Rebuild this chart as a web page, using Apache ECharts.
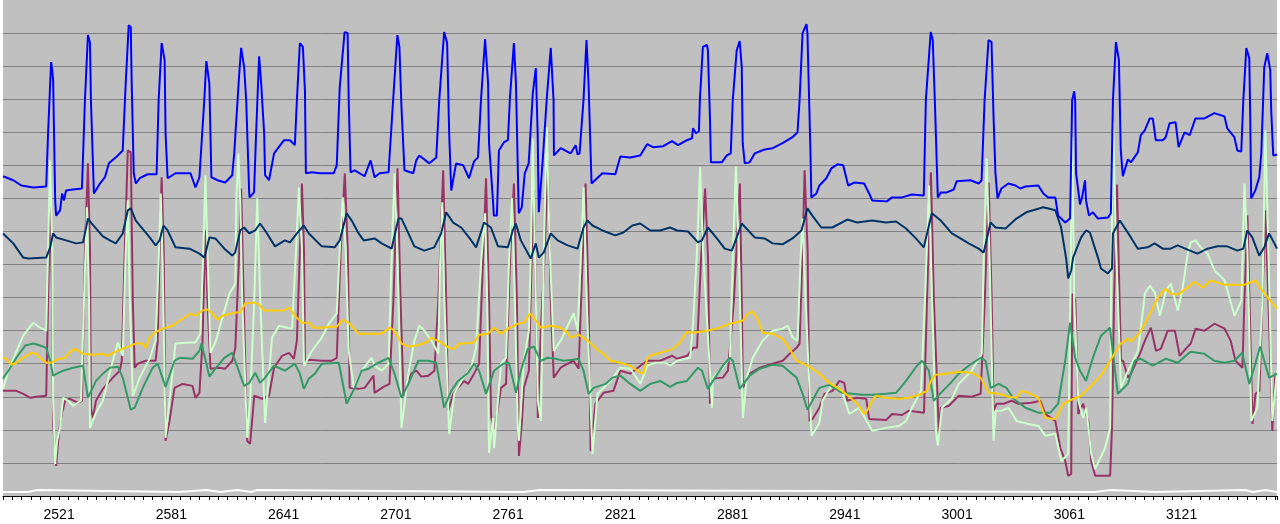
<!DOCTYPE html>
<html>
<head>
<meta charset="utf-8">
<script src="https://cdn.jsdelivr.net/npm/echarts@6/dist/echarts.min.js"></script>
<style>
html,body{margin:0;padding:0;background:#ffffff;}
#chart{width:1280px;height:524px;}
</style>
</head>
<body>
<div id="chart"></div>
<script>
// x: sample number, y: signal level (arbitrary units, 0-150)
const xMin = 2491, xMax = 3172;
const firstLabel = 2521, labelStep = 60;

const blueSeries = [[2491,96.7],[2496.5,95.5],[2500.8,93.9],[2507.2,93.3],[2514.1,93.6],[2515.1,109.7],[2516.7,131.2],[2517.3,128.8],[2517.8,125.8],[2518.9,89.4],[2519.4,84.8],[2521.5,86.4],[2522.6,91.5],[2523.6,89.4],[2524.7,92.4],[2528.4,92.7],[2533.2,93],[2534.8,119.7],[2536.4,139.4],[2537.5,137],[2538,119.7],[2539.6,91.5],[2542.8,94.5],[2545.5,96.4],[2547.6,100.6],[2552.4,103],[2555,104.5],[2556.6,124.8],[2558.2,142.4],[2559.3,141.8],[2559.8,124.8],[2560.9,97.6],[2562,94.5],[2564.1,96.1],[2568.3,97.3],[2573.1,97.3],[2574.2,119.7],[2575.8,137],[2577.4,131.8],[2577.9,109.7],[2579,96.1],[2583.2,97.6],[2591.2,97.6],[2593.9,93.3],[2596,96.4],[2598.6,119.7],[2599.7,131.5],[2601.3,124.8],[2602.4,96.4],[2605.6,95.5],[2609.8,94.8],[2613.5,97],[2614.6,103.6],[2617.3,127.9],[2618.3,135.5],[2619.9,129.7],[2621,119.7],[2622.6,91.8],[2622.8,90.3],[2625.2,91.8],[2626.3,109.7],[2627.9,133],[2629,124.8],[2630.6,109.7],[2631.1,97],[2633.2,95.5],[2635.9,103.6],[2641.2,107.6],[2644.4,107.6],[2647,106.1],[2648.1,119.7],[2649.7,137],[2651.3,135.8],[2652.4,122.7],[2652.9,97.6],[2656.1,97.9],[2660.4,97.6],[2667.8,97.6],[2669.4,100],[2671,123.6],[2673.6,140.3],[2675.2,140],[2675.8,119.7],[2676.8,97.9],[2679,98.5],[2684.3,96.7],[2687.5,101.5],[2689.6,96.4],[2692.3,97.6],[2697.1,97.9],[2699.2,116.7],[2701.8,139.4],[2702.9,135.8],[2704,117.6],[2705.6,98.5],[2710.3,97.6],[2711.9,101.5],[2713.5,103],[2718.9,100.6],[2722.6,102.4],[2724.2,119.7],[2726.8,140.3],[2728.4,137],[2729.5,109.7],[2730.6,92.4],[2733.2,100.6],[2737,100],[2740.1,96.1],[2742.8,101.2],[2744.9,102.4],[2746.5,119.7],[2748.7,138.2],[2750.3,124.8],[2750.8,106.7],[2752.9,89.4],[2753.4,84.8],[2755,84.8],[2756.1,104.5],[2758.8,107],[2760.9,107.6],[2762,120.6],[2764.1,137],[2765.2,124.8],[2766.7,85.5],[2768.3,87.3],[2769.9,97.6],[2772,100.6],[2774.2,121.8],[2775.8,129.4],[2776.8,109.7],[2777.4,85.8],[2779.5,101.5],[2781.6,119.7],[2783.8,135.5],[2785.3,119.7],[2785.5,103],[2789.1,105.2],[2794.4,103.6],[2797.1,106.1],[2798.1,103.3],[2799.2,103.6],[2801.3,119.7],[2802.9,137.9],[2804,124.8],[2805.6,94.5],[2806.6,94.2],[2811.4,97.6],[2818.3,97.3],[2821,102.7],[2826.3,102.4],[2831.6,103],[2835.3,106.4],[2838.5,105.5],[2843.9,105.8],[2848.6,107.3],[2851.8,106.1],[2856.6,107.6],[2859.3,108.2],[2859.8,111.2],[2861.4,109.7],[2863,110.3],[2863.5,119.7],[2865.1,135.8],[2867.3,136.4],[2867.8,134.8],[2868.9,114.5],[2869.4,100.9],[2875.2,100.9],[2877.9,103],[2880,103.6],[2881.1,119.7],[2883.2,134.8],[2884.8,137.6],[2885.9,129.7],[2886.4,106.7],[2887.5,100.6],[2890.1,100.9],[2892.8,103.6],[2898.1,104.8],[2902.4,105.2],[2907.7,106.7],[2913,108.5],[2915.7,110],[2916.8,119.7],[2918.4,140],[2920.5,142.7],[2921,140],[2922.6,104.5],[2923.1,90.3],[2925.8,91.5],[2927.4,93.9],[2931.1,96.1],[2933.8,99.1],[2937,100.3],[2940.1,100],[2942.8,93.9],[2946,94.8],[2951.3,94.5],[2954,91.5],[2955.6,89.4],[2963.5,89.1],[2966.2,90.3],[2971.5,90.3],[2976.8,91.2],[2983.2,90.9],[2984.3,119.7],[2986.9,140.3],[2988,137.9],[2989.1,119.7],[2990.7,90.3],[2992.3,91.8],[2995.5,91.8],[2999.2,92.7],[3000.8,95.2],[3008.2,95.5],[3012.5,94.5],[3014.1,95.5],[3015.7,119.7],[3017.8,137.9],[3019.4,137.3],[3020.5,114.5],[3021.5,97.6],[3022.6,90],[3024.7,93],[3028.4,94.5],[3032.2,93.9],[3034.8,93],[3037.5,93.6],[3044.4,93.9],[3047.1,91.5],[3049.7,90.3],[3053.5,90.3],[3055,84.8],[3058.8,82.7],[3061.4,83.9],[3062.5,119.7],[3063.6,122.4],[3064.1,119.7],[3064.6,97.6],[3066.7,88.2],[3067.8,90.3],[3069.4,95.5],[3069.9,89.4],[3071.5,84.8],[3073.6,85.8],[3076.3,83.9],[3081.6,84.2],[3083.2,85.5],[3084.3,119.7],[3085.9,137.3],[3087.5,131.8],[3088.5,104.5],[3089.6,96.7],[3092.3,101.8],[3093.9,100.9],[3097.6,103.9],[3099.2,109.1],[3101.3,110.6],[3104,114.2],[3105.6,114.2],[3107.2,107.6],[3110.9,107.6],[3112.5,108.5],[3114.6,112.7],[3117.8,113],[3119.4,105.5],[3122.6,110],[3125.3,109.1],[3128.4,114.2],[3133.2,114.2],[3138.5,115.8],[3143.9,114.8],[3145.4,111.2],[3149.2,108.5],[3150.8,104.5],[3152.9,104.2],[3154,119.7],[3155.6,135.5],[3157.2,132.4],[3157.7,114.5],[3158.2,90],[3160.4,92.4],[3162.5,96.4],[3163.6,103.6],[3165.2,129.7],[3166.8,133.9],[3168.4,128.8],[3168.9,116.7],[3170,103],[3172,103.3]];

const navySeries = [[2491,79.4],[2496.5,76.4],[2501.8,72.1],[2504.5,71.8],[2514.1,72.1],[2516.2,75.2],[2517.8,79.4],[2519.4,78.2],[2524.7,77.3],[2530,76.4],[2533.8,76.7],[2536.4,83.9],[2538,82.7],[2544.4,78.5],[2548.1,77.3],[2551.3,76.4],[2555,79.4],[2557.7,86.4],[2559.3,87],[2562,83.3],[2569.4,78.2],[2572.6,75.8],[2574.7,77.3],[2576.8,81.8],[2579,80.3],[2583.2,75.2],[2590.7,74.8],[2596,73.3],[2598.7,72.1],[2601.3,78.2],[2604.5,77.9],[2609.3,74.8],[2613.5,72.7],[2615.1,73.6],[2617.8,80.3],[2619.9,81.2],[2622.6,79.4],[2625.8,80.3],[2628.4,82.4],[2631.1,80.3],[2636.4,75.5],[2641.7,77.3],[2644.4,76.7],[2648.1,79.4],[2651.8,81.8],[2654.5,79.4],[2661.4,75.5],[2668.3,75.2],[2671,77.3],[2674.7,85.5],[2677.4,83.3],[2681.1,79.4],[2683.8,77.3],[2689.6,77.9],[2693.4,76.4],[2698.7,74.8],[2702.4,83.9],[2704,83.9],[2707.7,79.4],[2710.9,75.5],[2716.2,74.2],[2721.5,75.2],[2725.2,79.4],[2727.9,85.8],[2731.6,82.7],[2735.9,81.2],[2740.1,78.2],[2743.9,75.2],[2748.1,82.7],[2751.8,81.2],[2755.6,75.5],[2760.9,75.2],[2763.5,80.3],[2765.1,82.4],[2767.8,77.3],[2773.1,71.8],[2775.8,76.4],[2777.4,72.1],[2780,73.6],[2783.8,79.4],[2787.5,77.3],[2792.8,75.8],[2798.1,74.8],[2801.3,81.2],[2803.4,83.3],[2806.1,81.8],[2811.4,80.3],[2818.3,78.8],[2822.6,79.7],[2827.4,81.8],[2831.6,82.4],[2837,80.3],[2842.3,80.3],[2847.6,81.2],[2851.3,80.3],[2857.2,80],[2862.5,76.7],[2864.6,77.3],[2867.8,81.2],[2872.6,77.9],[2876.8,74.8],[2880.6,74.2],[2885.9,82.4],[2892.8,78.2],[2898.1,77.9],[2902.4,76.4],[2907.7,76.1],[2913,77.9],[2917.8,80.3],[2921,87],[2923.6,84.8],[2928.4,81.2],[2934.3,81.2],[2942.3,83.6],[2947.6,82.7],[2955.6,83.3],[2963,82.7],[2968.4,83],[2973.7,80.9],[2979,77.9],[2983.2,75.2],[2987.5,85.5],[2992.3,83.3],[2998.2,79.4],[3001.9,78.2],[3007.2,76.4],[3012.5,74.8],[3015.2,73.6],[3018.9,82.7],[3021.6,81.2],[3026.9,80.9],[3032.7,83.9],[3038,85.8],[3047.1,87.3],[3053.5,86.4],[3056.6,81.2],[3059.3,71.8],[3060.4,65.8],[3062,68.2],[3063,72.1],[3067.3,78.2],[3069.9,80.3],[3072,79.7],[3076.3,72.1],[3077.9,68.8],[3081.6,67.3],[3083.8,68.8],[3084.3,79.4],[3088,83.3],[3093.9,78.2],[3097.6,74.8],[3102.9,75.2],[3106.6,76.4],[3110.9,74.8],[3115.1,74.8],[3118.9,75.8],[3124.2,74.5],[3129.5,73.3],[3134.8,74.8],[3140.2,75.5],[3145.4,75.5],[3150.8,74.2],[3154,74.8],[3156.1,80.3],[3158.8,78.2],[3162.5,72.7],[3165.2,75.2],[3167.8,79.4],[3170.6,76.4],[3172,74.8]];

const goldSeries = [[2491,41.8],[2492.8,41.5],[2495.5,39.7],[2498.1,40.3],[2501.8,41.8],[2506.1,43.3],[2508.8,43],[2511.4,41.5],[2514.1,40.3],[2516.7,40.3],[2519.4,41.2],[2524.2,41.8],[2526.8,43.6],[2529.5,44.5],[2533.8,43],[2539.1,42.7],[2544.4,43],[2547.1,42.4],[2549.7,43.3],[2556.1,44.8],[2562,46.1],[2565.7,46.1],[2567.3,44.8],[2569.4,47.9],[2572.1,49.4],[2576.3,50.6],[2581.6,51.5],[2585.4,53],[2588,53.9],[2591.2,55.2],[2593.9,54.5],[2597.6,56.1],[2600.3,56.4],[2602.9,55.2],[2605.6,53.3],[2608.3,54.5],[2615.1,55.5],[2617.8,55.5],[2620.5,58.2],[2625.2,58.5],[2627.9,57.9],[2630.6,56.1],[2641.2,56.1],[2643.9,57],[2647,54.5],[2650.8,52.4],[2654.5,52.4],[2657.2,50.9],[2661.4,50.9],[2666.8,51.2],[2669.4,51.2],[2672.6,53.3],[2676.3,52.1],[2681.1,49.1],[2684.3,49.1],[2693.4,49.1],[2697.6,50.9],[2700.3,50],[2704,46.1],[2707.7,45.2],[2712,45.5],[2717.3,46.4],[2720,47.9],[2725.3,46.4],[2729.5,44.8],[2732.2,44.5],[2734.9,46.1],[2737.5,46.1],[2742.8,46.4],[2745.5,48.8],[2750.3,49.1],[2753.5,50.9],[2757.2,49.1],[2760.9,50.6],[2766.2,52.1],[2769.4,52.4],[2772.6,55.2],[2774.7,53.9],[2778.5,50.9],[2783.8,51.5],[2789.1,50.9],[2792.8,49.4],[2794.4,47.9],[2798.7,48.8],[2803.5,47],[2808.8,44.2],[2812,43],[2815.7,40.9],[2821,40.3],[2826.3,39.4],[2831.6,37.3],[2833.2,37],[2835.4,41.5],[2837,42.4],[2842.3,43.3],[2849.2,44.5],[2852.9,46.4],[2856.6,49.7],[2859.8,49.4],[2867.3,50],[2874.2,50.9],[2879.5,52.1],[2886.4,53],[2889.1,55.2],[2891.7,55.8],[2893.9,53.9],[2897.1,49.4],[2902.4,49.1],[2907.7,47.6],[2911.4,44.5],[2915.2,40.9],[2922.1,39.1],[2927.4,37],[2932.7,34.2],[2938,32.4],[2943.4,30],[2947.6,27.9],[2951.3,24.8],[2952.9,25.8],[2955.6,28.8],[2957.7,30.3],[2963,29.7],[2969.9,29.4],[2975.3,29.7],[2980.6,30.6],[2984.9,31.8],[2987,34.8],[2989.6,36.7],[2995,37],[3001.9,37.6],[3008.8,37.3],[3013.6,35.8],[3017.9,31.2],[3023.2,30.9],[3028.5,30],[3032.8,29.7],[3035.4,31.8],[3039.1,31.2],[3044.4,29.7],[3048.2,23.6],[3053.5,23.3],[3057.7,27.9],[3062,29.1],[3067.3,30.3],[3077.9,36.4],[3088.5,46.1],[3092.3,47.6],[3093.9,46.7],[3098.7,49.4],[3104.5,55.5],[3108.2,60],[3112.5,62.7],[3115.2,61.2],[3118.9,60.9],[3124.2,63],[3127.9,64.8],[3132.2,63],[3136.4,65.2],[3143.9,63.9],[3154.5,63.9],[3160.4,65.2],[3164.1,62.1],[3168.4,59.1],[3172,56.7]];

const seaGreenSeries = [[2491,35.5],[2493.9,37.9],[2498.1,41.8],[2502.9,45.5],[2507.2,46.1],[2510.9,45.5],[2514.1,44.8],[2516.2,40.9],[2517.8,36.4],[2523.1,37.9],[2528.4,38.8],[2533.8,39.4],[2536.4,29.7],[2540.7,34.8],[2544.4,37],[2548.1,38.8],[2552.4,39.1],[2555,35.8],[2559.3,26.1],[2561.4,26.7],[2565.7,32.7],[2571,38.8],[2573.7,40],[2577.9,33],[2582.7,40.9],[2585.4,41.8],[2592.3,41.5],[2596,43.9],[2597.1,46.1],[2598.7,42.4],[2601.3,36.1],[2604.5,38.5],[2609.3,41.8],[2613.5,43.3],[2615.1,40.9],[2619.9,33.3],[2622.6,34.2],[2625.8,37.3],[2628.4,34.2],[2631.1,35.8],[2635.9,39.4],[2641.7,37.9],[2647,40],[2649.7,37],[2651.8,32.4],[2654.5,35.5],[2657.7,37],[2661.4,40],[2670.5,40.3],[2674.7,27.9],[2679,32.7],[2682.7,37.9],[2686.4,38.5],[2690.7,40],[2697.1,41.8],[2700.3,37],[2704,29.7],[2707.7,33.9],[2713,40.9],[2718.3,40.9],[2722.6,40.3],[2726.8,26.7],[2730.6,31.8],[2734.3,34.8],[2739.6,37.3],[2742.8,40],[2745.5,37.9],[2749.2,30.9],[2753.5,37.9],[2758.3,40],[2761.4,40.3],[2765.2,31.2],[2767.8,37.9],[2771.5,44.5],[2774.7,45.2],[2778.5,40.9],[2782.2,41.8],[2786.4,41.5],[2790.7,40.9],[2795.5,41.2],[2798.7,41.5],[2801.3,37.9],[2804,30.9],[2806.7,32.7],[2813.1,33.9],[2816.8,35.8],[2821,36.4],[2826.3,33.9],[2831.6,31.8],[2837,33.9],[2842.3,34.8],[2847.6,33],[2851.3,34.2],[2856.6,34.8],[2862.5,38.8],[2864.6,37.9],[2867.8,32.4],[2871.6,35.8],[2875.8,39.4],[2879.5,41.8],[2881.1,40.9],[2884.8,32.4],[2890.1,36.4],[2895.5,38.5],[2902.4,39.7],[2907.7,39.4],[2915.2,35.8],[2918.4,30.9],[2921,26.1],[2923.6,28.8],[2927.4,32.7],[2932.7,33.6],[2939.6,31.2],[2944.9,30.9],[2950.2,30.6],[2955.6,30.6],[2963,30.9],[2968.4,31.2],[2973.7,34.8],[2979.5,39.4],[2982.2,40.9],[2985.9,37.9],[2988.5,28.8],[2992.3,31.2],[2997.6,34.2],[3001.9,37],[3007.2,39.4],[3013.6,41.8],[3016.2,40.9],[3018.9,32.7],[3023.2,33.9],[3027.4,32.7],[3031.2,29.4],[3037.5,26.7],[3044.4,25.2],[3050.8,25.2],[3055,27.9],[3058.8,40.9],[3061.4,52.4],[3064.1,41.8],[3066.7,37.9],[3069.9,34.8],[3073.6,41.8],[3077.9,48.5],[3082.7,50.9],[3086.9,30.9],[3092.3,33.9],[3096,40.9],[3099.2,41.5],[3105.6,39.4],[3112.5,41.5],[3118.9,40.3],[3125.8,43.6],[3133.2,43],[3138.5,40.9],[3143.9,40.3],[3149.2,40.9],[3153.4,43.3],[3157.2,33.9],[3159.8,38.8],[3163,45.2],[3167.8,35.8],[3172,37]];

const maroonSeries = [[2491,31.8],[2498.1,31.8],[2501.8,30.9],[2505.6,29.7],[2508.8,30],[2514.1,30.3],[2515.1,59.1],[2516.2,89.4],[2517.3,59.1],[2517.8,21.8],[2519.4,9.1],[2520.5,16.7],[2521.5,21.8],[2522.6,25.2],[2524.2,28.8],[2526.8,29.4],[2531.1,28.2],[2533.2,28.8],[2534.8,74.2],[2536.4,100.6],[2537.5,74.2],[2538,26.4],[2539.1,23.6],[2540.7,28.8],[2544.4,32.4],[2549.7,35.8],[2553.4,37.9],[2554.5,40.9],[2556.1,74.2],[2557.7,104.5],[2559.3,103.9],[2560.4,59.1],[2561.4,38.8],[2563,40],[2567.3,40.9],[2572.6,40.9],[2573.7,47],[2574.7,74.2],[2575.8,96.4],[2576.9,74.2],[2577.9,16.7],[2580,22.7],[2582.7,32.7],[2587,33.9],[2592.3,33.3],[2593.9,29.7],[2596,31.2],[2597.6,46.1],[2599.2,80.3],[2600.3,59.1],[2601.9,38.5],[2606.6,38.8],[2609.8,38.5],[2613.6,40.9],[2615.2,44.8],[2617.3,74.2],[2618.3,93],[2619.4,65.2],[2621.5,16.7],[2623.1,15.8],[2625.3,30.3],[2629.5,29.4],[2633.2,30.3],[2635.9,38.8],[2640.2,42.4],[2643.9,43.3],[2646.5,41.5],[2648.1,47],[2649.7,74.2],[2650.8,94.5],[2651.9,74.2],[2652.4,40.9],[2655.1,41.2],[2661.4,40.9],[2666.8,40.9],[2669.4,41.8],[2671.5,74.2],[2673.7,97.6],[2675.3,74.2],[2676.3,32.7],[2681.1,32.4],[2684.3,32.7],[2689.1,36.4],[2689.6,31.2],[2694.4,33],[2697.6,33.9],[2699.7,59.1],[2701.9,99.1],[2703.5,59.1],[2705.1,30.3],[2709.3,37],[2712,37.9],[2714.6,36.1],[2718.4,36.4],[2721.6,37.9],[2723.7,59.1],[2726.3,98.5],[2727.9,59.1],[2729,25.8],[2731.7,30.9],[2734.3,32.7],[2737.5,34.8],[2739.6,33.9],[2742.8,37],[2745.5,40],[2747.6,71.2],[2749.2,96.1],[2750.8,59.1],[2751.9,24.2],[2753.5,18.8],[2755.6,26.7],[2757.2,32.7],[2759.9,33.9],[2762,71.2],[2764.1,94.5],[2765.7,59.1],[2766.8,12.1],[2768.4,22.7],[2769.4,32.7],[2772.1,37.9],[2773.7,74.2],[2774.8,92.4],[2775.8,59.1],[2776.9,23.6],[2778.5,50],[2780.6,74.2],[2782.2,101.5],[2783.8,59.1],[2785.4,35.8],[2789.1,38.8],[2792.8,40],[2796,40.9],[2798.7,38.5],[2800.8,71.2],[2802.4,94.5],[2804,59.1],[2805.1,13.6],[2807.7,27.9],[2812,31.2],[2817.3,31.8],[2821,37.9],[2826.4,37],[2831.7,39.4],[2835.4,40.9],[2842.3,40.9],[2848.7,42.4],[2851.4,41.5],[2856.7,42.4],[2859.9,44.8],[2862,44.8],[2864.1,71.2],[2866.3,93],[2867.9,71.2],[2868.9,27.9],[2870.5,35.5],[2875.8,35.8],[2878.5,37.9],[2881.7,59.1],[2884.9,94.5],[2885.9,59.1],[2886.5,32.7],[2890.2,37],[2895.5,38.8],[2902.4,40],[2907.8,40.9],[2911.5,43],[2915.2,44.8],[2916.8,46.1],[2918.4,74.2],[2919.5,98.5],[2921.1,74.2],[2922.1,22.7],[2923.7,23.3],[2927.4,26.7],[2930.1,30.9],[2934.4,31.8],[2938.1,34.8],[2940.7,34.2],[2942.3,28.8],[2947.1,29.7],[2952.4,29.4],[2954,23.3],[2963.1,23],[2966.3,24.8],[2971.6,24.5],[2975.3,25.8],[2983.3,25.2],[2984.9,59.1],[2987,97.9],[2988.6,59.1],[2991.3,18.8],[2992.3,26.7],[2996.6,27.3],[3001.9,30.3],[3008.8,30],[3013.6,30.9],[3015.8,59.1],[3017.9,94.8],[3019.5,59.1],[3020.5,25.8],[3022.1,27.9],[3025.9,27.9],[3030.1,28.8],[3033.8,27.9],[3040.8,28.2],[3045.5,28.8],[3048.2,24.8],[3053.5,22.7],[3056.2,14.5],[3058.8,10.6],[3060.4,6.1],[3062,6.7],[3062.6,61.2],[3064.2,59.1],[3065.8,24.8],[3068.4,27.9],[3071.1,22.7],[3072.7,10.6],[3074.8,6.1],[3082.8,6.1],[3083.8,20.6],[3084.9,59.1],[3086.5,94.2],[3087.6,65.2],[3088.6,40.9],[3089.7,40.9],[3092.4,35.8],[3094,37],[3098.7,43],[3101.4,47],[3104.6,50.9],[3107.3,43.9],[3109.9,44.5],[3113.6,50],[3117.4,50],[3120,42.4],[3123.2,44.5],[3125.9,46.1],[3128.5,50.6],[3133.3,50],[3138.6,52.1],[3144,50.6],[3147.2,47],[3149.8,40.9],[3153.5,38.8],[3154.6,59.1],[3156.2,84.8],[3157.3,59.1],[3158.9,21.8],[3160.5,30.9],[3162.6,31.8],[3164.2,59.1],[3165.8,86.4],[3167.4,59.1],[3169.5,19.7],[3171.1,37],[3172,37]];

const lightGreenSeries = [[2491,32.4],[2493.9,37.9],[2497.6,43],[2501.8,48.5],[2507.2,52.4],[2510.9,50.9],[2514.1,50],[2515.1,74.2],[2516.2,101.5],[2517.3,74.2],[2517.8,28.8],[2518.9,9.7],[2519.9,16.7],[2521.5,20.6],[2523.1,29.7],[2525.8,28.8],[2528.4,27.3],[2532.7,28.8],[2534.3,59.1],[2535.9,87.3],[2537,59.1],[2537.5,20.6],[2538,20.3],[2540.7,25.2],[2544.4,28.8],[2549.7,40.9],[2552.4,46.4],[2555,42.4],[2556.6,74.2],[2557.7,89.4],[2558.8,59.1],[2560.4,30.3],[2561.4,30.3],[2564.1,35.8],[2569.4,41.5],[2572.6,47],[2574.2,71.2],[2575.3,91.5],[2576.3,71.2],[2577.9,17.6],[2580,28.8],[2583.2,46.1],[2590.7,46.4],[2593.9,46.4],[2596.5,49.1],[2598.1,74.2],[2599.2,97],[2600.3,74.2],[2601.9,43.3],[2604.5,46.4],[2612,61.2],[2615.2,64.2],[2615.7,89.4],[2616.8,103.6],[2617.8,89.4],[2618.9,59.1],[2621.5,17.6],[2623.1,28.8],[2625.3,59.1],[2626.9,90],[2628.5,59.1],[2631.1,22.1],[2634.8,47.9],[2638.6,51.5],[2645.5,50.6],[2647.6,74.2],[2649.2,93.3],[2650.8,74.2],[2651.9,39.4],[2656.1,43.9],[2661.4,47.9],[2665.2,52.1],[2669.4,55.2],[2671,74.2],[2672.6,90.3],[2674.2,74.2],[2675.8,43.9],[2678.5,32.7],[2682.7,37.9],[2688,41.8],[2689.6,39.4],[2693.4,37.9],[2697.1,40],[2698.7,71.2],[2700.3,97.6],[2701.9,71.2],[2704,20.6],[2707.7,37],[2710.9,47],[2713.6,51.5],[2716.2,50],[2720,47],[2723.7,43],[2724.7,71.2],[2725.8,88.8],[2726.9,59.1],[2729.5,18.8],[2732.2,30.9],[2737,35.8],[2741.2,38.8],[2743.9,44.8],[2746.6,71.2],[2748.7,85.5],[2749.8,59.1],[2750.8,13],[2752.9,23.6],[2753.5,14.5],[2757.2,40],[2759.9,41.8],[2761.5,71.2],[2763.1,90],[2764.6,59.1],[2766.2,20.6],[2766.8,16.7],[2769.4,40.9],[2772.1,50],[2773.2,74.2],[2774.2,108.2],[2775.3,74.2],[2776.9,28.8],[2778.5,22.7],[2780.1,74.2],[2781.7,111.5],[2783.3,74.2],[2785.4,43.9],[2789.1,47],[2796,55.2],[2798.2,50],[2799.8,71.2],[2801.4,93.3],[2803,59.1],[2806.1,12.7],[2808.8,30.9],[2815.7,34.8],[2821,38.8],[2826.4,38.5],[2831.7,33.9],[2835.4,39.4],[2839.7,40.3],[2845,40.3],[2847.6,39.4],[2851.4,40.9],[2858.3,41.8],[2859.9,52.4],[2862,74.2],[2863.6,99.4],[2865.2,74.2],[2870,26.7],[2870.5,35.8],[2875.8,38.8],[2879.6,41.8],[2881.2,74.2],[2882.8,99.7],[2884.3,74.2],[2886.5,23.6],[2888.6,35.8],[2891.8,41.8],[2897.1,47],[2902.4,50],[2907.8,50.6],[2910.4,51.5],[2913.1,47.9],[2915.7,47],[2917.3,71.2],[2918.4,83.9],[2920,59.1],[2923.2,18.2],[2927.4,22.1],[2929,28.8],[2934.4,33.9],[2939.7,31.2],[2943.4,24.8],[2948.7,26.7],[2955.6,19.7],[2963.1,20.6],[2970,21.2],[2973.7,22.7],[2976.9,26.7],[2981.7,31.8],[2983.8,59.1],[2986,93.9],[2987.6,59.1],[2989.7,19.7],[2990.7,15.2],[2992.9,26.7],[2998.2,29.4],[3001.9,33.9],[3008.8,37.9],[3014.2,43],[3015.2,71.2],[3016.8,102.1],[3018.4,71.2],[3020.5,16.7],[3021.6,25.8],[3024.8,25.8],[3028.5,26.7],[3032.8,22.7],[3039.2,21.8],[3044.5,21.2],[3048.2,18.2],[3053.5,18.8],[3056.7,10.6],[3060.4,12.7],[3061.5,59.1],[3062.6,108.5],[3063.6,59.1],[3065.8,28.8],[3068.4,23.6],[3070,26.7],[3072.7,12.7],[3074.8,8.2],[3080.1,14.5],[3082.8,20.6],[3083.3,59.1],[3084.4,113],[3086,74.2],[3088.6,32.7],[3092.4,37.9],[3097.7,43.9],[3101.4,61.2],[3104.1,63.6],[3106.7,61.5],[3109.4,54.5],[3112.6,62.1],[3115.2,64.2],[3119,56.1],[3121.6,63],[3124.3,73.3],[3125.9,76.7],[3128.5,77.3],[3131.2,75.2],[3134.9,73.3],[3138.6,68.2],[3144,65.2],[3149.3,54.5],[3153,59.1],[3154.6,94.5],[3156.2,74.2],[3158.3,22.7],[3161.5,26.7],[3164.2,59.1],[3165.8,110.6],[3167.4,74.2],[3169.5,22.7],[3172,37.9]];

const whiteSeries = [[2491,1.2],[2504.5,1.2],[2505,1.8],[2509.3,1.8],[2509.8,1.2],[2585,1.2],[2585.4,1.8],[2599.7,1.8],[2600.2,1.2],[2607,1.2],[2607.2,1.8],[2616.2,1.8],[2616.6,1.2],[2624,1.2],[2624.2,1.8],[2626.3,1.8],[2626.7,1.2],[2769,1.2],[2769.4,1.8],[2777.9,1.8],[2778.3,1.2],[3074.5,1.2],[3074.8,1.8],[3083.3,1.8],[3083.7,1.2],[3107,1.2],[3107.3,1.8],[3155.1,1.8],[3155.5,1.2],[3159,1.2],[3159.4,1.8],[3165.8,1.8],[3166.2,1.2],[3172,1.2]];

function line(name, data, color, width) {
  return {
    name: name, type: 'line', data: data, showSymbol: false, symbol: 'none',
    lineStyle: { color: color, width: width }, itemStyle: { color: color },
    smooth: false, animation: false, silent: true
  };
}

const gridColors = [];
for (let i = 0; i < 15; i++) gridColors.push('#808080');
gridColors.push('#c0c0c0');

const chart = echarts.init(document.getElementById('chart'), null, { renderer: 'canvas' });
chart.setOption({
  animation: false,
  backgroundColor: '#ffffff',
  grid: { left: 0, right: 0, top: 0, bottom: 28, show: true, backgroundColor: '#c0c0c0', borderWidth: 0 },
  xAxis: {
    type: 'value', min: xMin, max: xMax, interval: 5,
    axisLine: { show: true, lineStyle: { color: '#000000', width: 1 } },
    axisTick: { show: true, length: 4, lineStyle: { color: '#000000' } },
    splitLine: { show: false },
    axisLabel: {
      margin: 12, color: '#000000', fontFamily: '"Liberation Sans Narrow", "Liberation Sans", Arial, sans-serif', fontSize: 14,
      showMinLabel: true, showMaxLabel: true,
      formatter: function (v) {
        const r = Math.round(v);
        return ((r - firstLabel) % labelStep === 0 && r >= firstLabel) ? String(r) : '';
      }
    }
  },
  yAxis: {
    type: 'value', min: 0, max: 150, interval: 10,
    axisLine: { show: false }, axisTick: { show: false }, axisLabel: { show: false },
    splitLine: { show: true, lineStyle: { color: gridColors, width: 1 } }
  },
  series: [
    line('white', whiteSeries, '#ffffff', 2),
    line('maroon', maroonSeries, '#993366', 2),
    line('lightgreen', lightGreenSeries, '#ccffcc', 2),
    line('seagreen', seaGreenSeries, '#339966', 2),
    line('gold', goldSeries, '#ffcc00', 2),
    line('navy', navySeries, '#003366', 2),
    line('blue', blueSeries, '#0000ff', 2)
  ]
});
</script>
</body>
</html>
